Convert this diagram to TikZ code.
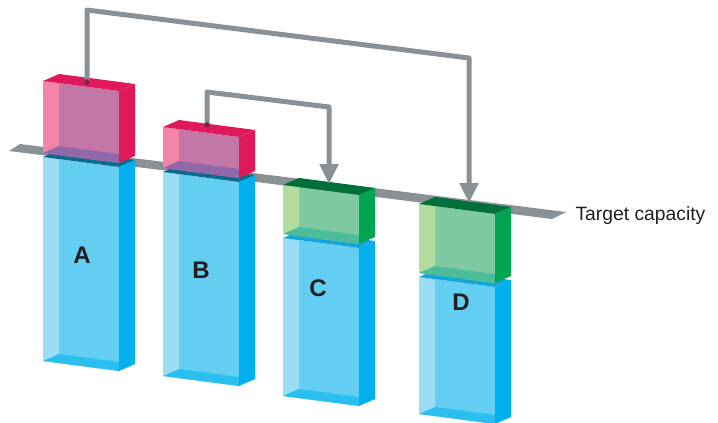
\documentclass[tikz,border=0pt]{standalone}
\usepackage{fontspec}
\setmainfont{Liberation Sans}
\usetikzlibrary{arrows.meta}
\definecolor{cyanFront}{HTML}{63CEF2}
\definecolor{cyanLeft}{HTML}{9ADDF6}
\definecolor{cyanRight}{HTML}{00B0EC}
\definecolor{cyanBase}{HTML}{2BBFF0}
\definecolor{cyanTop}{HTML}{0C6C8E}
\definecolor{cyanLid}{HTML}{14A5DC}
\definecolor{rubyFront}{HTML}{C277A6}
\definecolor{rubyLeft}{HTML}{F285A8}
\definecolor{rubyRight}{HTML}{E0195A}
\definecolor{rubyBase}{HTML}{9268A8}
\definecolor{rubyTop}{HTML}{E0195A}
\definecolor{mintFront}{HTML}{7FC9A0}
\definecolor{mintLeft}{HTML}{B2DB9E}
\definecolor{mintRight}{HTML}{00A551}
\definecolor{mintBase}{HTML}{4BBD98}
\definecolor{mintTop}{HTML}{006F38}
\definecolor{capGray}{HTML}{8A9196}
\definecolor{inkText}{HTML}{231F20}
\definecolor{dotMaroon}{HTML}{7B2347}
\tikzset{
link/.style={draw=capGray, line width=5pt, line join=round},
arr/.style={link, -{Triangle[width=18pt,length=20pt]}},
barlabel/.style={text=inkText, font=\bfseries\fontsize{24}{24}\selectfont},
}
% oblique prism: x, y (front top left), height, colour family, top colour
\newcommand{\prismbox}[5]{%
  \begin{scope}[shift={(#1,#2)}]
    \fill[#4Front] (0,0) -- (76,10) -- (76,{10+#3}) -- (0,#3) -- cycle;
    \fill[#4Left] (0,0) -- (16,2) -- (16,{#3-7}) -- (0,#3) -- cycle;
    \fill[#4Base] (0,#3) -- (16,{#3-7}) -- (76,{#3+1}) -- (76,{#3+10}) -- cycle;
    \fill[#5] (0,0) -- (16,-7) -- (92,3) -- (76,10) -- cycle;
    \fill[#4Right] (76,10) -- (92,3) -- (92,{3+#3}) -- (76,{10+#3}) -- cycle;
  \end{scope}}

\begin{document}
\begin{tikzpicture}[x=1pt, y=-1pt]
    \useasboundingbox (0,0) rectangle (718,423);

    % target capacity plane
    \fill[capGray] (9,151) -- (20,144) -- (566,212) -- (552,219) -- cycle;
    \node[anchor=west, text=inkText, font=\fontsize{19.3}{20}\selectfont] (target) at (572,216) {Target capacity};

    \prismbox{43}{157}{204}{cyan}{cyanTop}
    \prismbox{43}{81}{72}{ruby}{rubyTop}
    \prismbox{163}{172}{204}{cyan}{cyanTop}
    \prismbox{163}{127}{41}{ruby}{rubyTop}
    \prismbox{283}{238}{158}{cyan}{cyanLid}
    \prismbox{283}{185}{49}{mint}{mintTop}
    \prismbox{419}{277}{137}{cyan}{cyanLid}
    \prismbox{419}{204}{69}{mint}{mintTop}

    \node[barlabel] (A) at (82,255) {A};
    \node[barlabel] (B) at (201,270) {B};
    \node[barlabel] (C) at (318,288) {C};
    \node[barlabel] (D) at (461,302) {D};

    % moves from the surplus boxes to the short bars
    \coordinate (srcA) at (87,82);
    \coordinate (upA) at (87,10);
    \coordinate (overD) at (469,58);
    \coordinate (tgtD) at (469,203);
    \coordinate (srcB) at (207,125);
    \coordinate (upB) at (207,92);
    \coordinate (overC) at (329,107);
    \coordinate (tgtC) at (329,184);
    \draw[arr] (srcA) -- (upA) -- (overD) -- (tgtD);
    \draw[arr] (srcB) -- (upB) -- (overC) -- (tgtC);
    \fill[dotMaroon] (srcA) circle (2.8);
    \fill[dotMaroon] (srcB) circle (2.8);
\end{tikzpicture}
\end{document}
